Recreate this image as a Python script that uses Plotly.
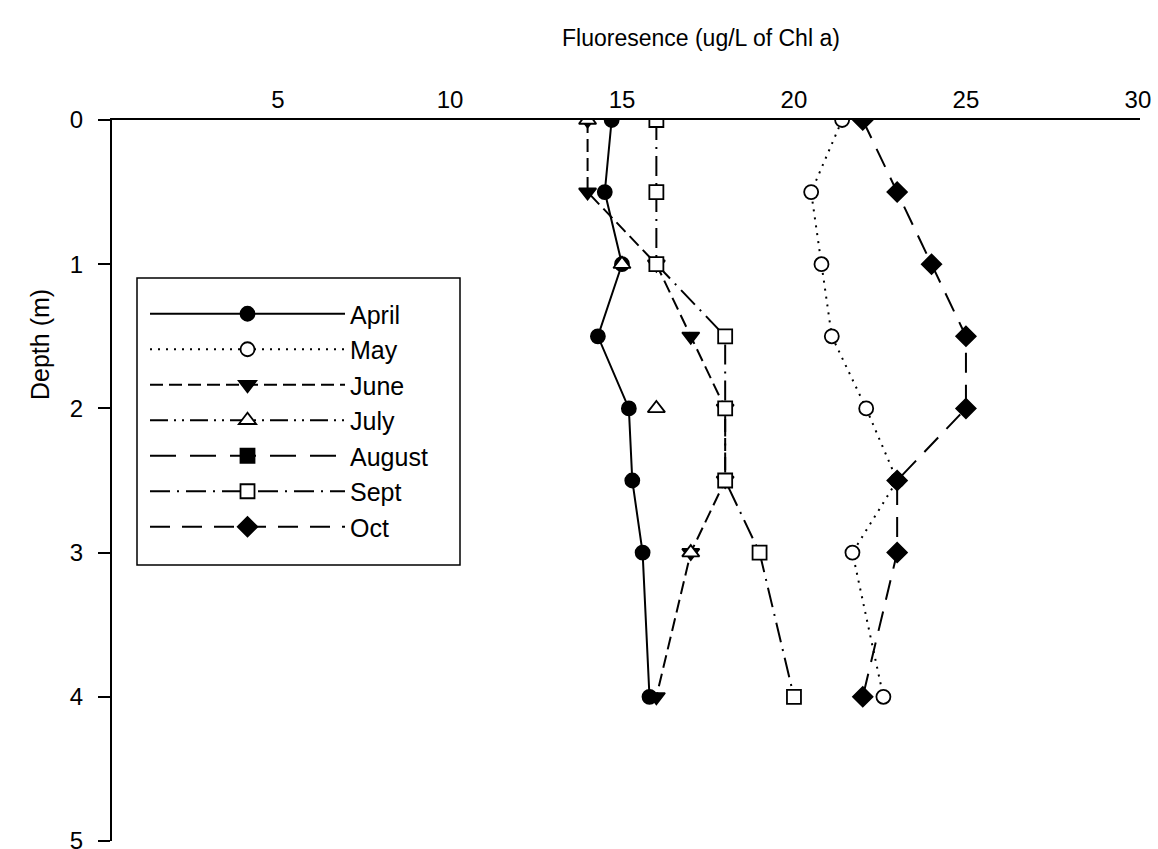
import plotly.graph_objects as go

# Depth of each sample (m)
depth = [0, 0.5, 1, 1.5, 2, 2.5, 3, 4]

# Chlorophyll a fluorescence (ug/L) per month at each depth; None = no sample
april = [14.7, 14.5, 15.0, 14.3, 15.2, 15.3, 15.6, 15.8]
may = [21.4, 20.5, 20.8, 21.1, 22.1, 23.0, 21.7, 22.6]
june = [14.0, 14.0, 16.0, 17.0, 18.0, 18.0, 17.0, 16.0]
july = [14.0, None, 15.0, None, 16.0, None, 17.0, None]
august = [None, None, None, None, None, None, None, None]
sept = [16.0, 16.0, 16.0, 18.0, 18.0, 18.0, 19.0, 20.0]
october = [22.0, 23.0, 24.0, 25.0, 25.0, 23.0, 23.0, 22.0]

x_ticks = [5, 10, 15, 20, 25, 30]
y_ticks = [0, 1, 2, 3, 4, 5]

series = [
    ("April", april, "circle", "black", "solid"),
    ("May", may, "circle", "white", "2px,6px"),
    ("June", june, "triangle-down", "black", "13px,6px"),
    ("July", july, "triangle-up", "white", "18px,6px,2px,6px,2px,6px"),
    ("August", august, "square", "black", "26px,14px"),
    ("Sept", sept, "square", "white", "20px,7px,2px,7px"),
    ("Oct", october, "diamond", "black", "20px,12px"),
]

sizes = {"circle": 14, "triangle-down": 15, "triangle-up": 15, "square": 14, "diamond": 15}

fig = go.Figure()
for name, vals, sym, fill, dash in series:
    fig.add_trace(go.Scatter(
        x=vals, y=depth, name=name, legendgroup=name,
        mode="lines+markers",
        line=dict(color="black", width=2, dash=dash),
        marker=dict(symbol=sym, size=sizes[sym], color=fill,
                    line=dict(color="black", width=1.8)),
    ))

font = "Liberation Sans, Arial, sans-serif"

# plot area in pixels: x 112..1140, y 120..841
L, R, T, B = 112, 1140, 120, 841
W, H = R - L, B - T


def px_x(p):
    return (p - L) / W


def px_y(p):
    return (B - p) / H


fig.update_layout(
    width=1158, height=849,
    margin=dict(l=L, r=1158 - R, t=T, b=849 - B, autoexpand=False),
    paper_bgcolor="white", plot_bgcolor="white",
    font=dict(family=font, size=24, color="black"),
    showlegend=True,
    legend=dict(
        x=px_x(145), y=px_y(291), xanchor="left", yanchor="top",
        borderwidth=0, bgcolor="rgba(0,0,0,0)",
        itemwidth=195, tracegroupgap=0,
        font=dict(family=font, size=25, color="black"),
    ),
    xaxis=dict(
        side="top", range=[0.174, 30.06], tickvals=x_ticks,
        showline=True, linecolor="black", linewidth=2,
        ticks="", showgrid=False, zeroline=False, automargin=False,
        tickfont=dict(size=24),
    ),
    yaxis=dict(
        range=[5, 0], tickvals=y_ticks,
        showline=True, linecolor="black", linewidth=2,
        ticks="outside", ticklen=12, tickwidth=2, tickcolor="black",
        showgrid=False, zeroline=False, ticklabeloverflow="allow",
        ticklabelstandoff=10, automargin=False,
        tickfont=dict(size=24),
    ),
    shapes=[
        # legend frame
        dict(type="rect", xref="paper", yref="paper",
             x0=px_x(137), x1=px_x(460), y0=px_y(565), y1=px_y(278),
             line=dict(color="black", width=1.5), fillcolor="rgba(0,0,0,0)",
             layer="below"),
    ],
    annotations=[
        dict(text="Fluoresence (ug/L of Chl a)", xref="paper", yref="paper",
             x=px_x(701), y=px_y(38),
             xanchor="center", yanchor="middle", showarrow=False,
             font=dict(size=23)),
        dict(text="Depth (m)", xref="paper", yref="paper",
             x=px_x(40), y=px_y(345),
             xanchor="center", yanchor="middle", showarrow=False,
             textangle=-90, font=dict(size=25)),
    ],
)

fig.write_html("out.html")
